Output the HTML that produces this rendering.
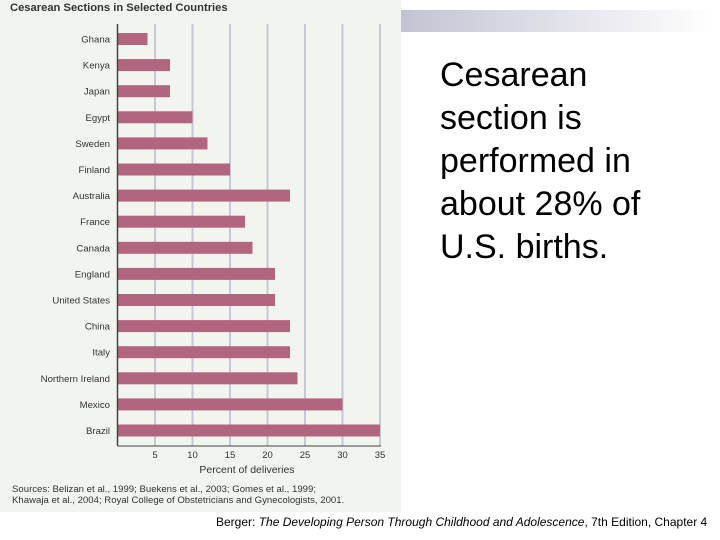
<!DOCTYPE html>
<html><head><meta charset="utf-8"><style>
body{margin:0;width:720px;height:540px;background:#fff;position:relative;overflow:hidden;font-family:"Liberation Sans",sans-serif}
#panel{position:absolute;left:0;top:0;width:401px;height:512px;background:#f2f5ef}
#band{position:absolute;left:401px;top:10px;width:312px;height:22px;background:linear-gradient(to right,#c3c3d3,#ffffff)}
#big{position:absolute;left:440px;top:54px;font-size:34px;line-height:43px;color:#000}
#cap{position:absolute;left:216px;top:515px;font-size:12px;color:#000;white-space:nowrap}
</style></head><body>
<div id="panel">
<svg id="chart" width="401" height="512">
<text x="10" y="11" font-size="11.2" fill="#333" font-family="Liberation Sans, sans-serif" font-weight="bold">Cesarean Sections in Selected Countries</text>
<g id="grid"></g><g id="bars"></g><g id="labels"></g><g id="ticks"></g>
<line x1="117.5" y1="24" x2="117.5" y2="446" stroke="#444" stroke-width="1.5"/>
<line x1="117.5" y1="446" x2="381" y2="446" stroke="#444" stroke-width="1"/>
<text x="247" y="473" font-size="10.5" fill="#333" text-anchor="middle">Percent of deliveries</text>
<text x="12" y="492" font-size="9.6" fill="#333">Sources: Belizan et al., 1999; Buekens et al., 2003; Gomes et al., 1999;</text>
<text x="12" y="503" font-size="9.6" fill="#333">Khawaja et al., 2004; Royal College of Obstetricians and Gynecologists, 2001.</text>
</svg></div>
<div id="band"></div>
<div id="big">Cesarean<br>section is<br>performed in<br>about 28% of<br>U.S. births.</div>
<div id="cap">Berger: <i>The Developing Person Through Childhood and Adolescence</i>, 7th Edition, Chapter 4</div>
<script>
const countries=["Ghana","Kenya","Japan","Egypt","Sweden","Finland","Australia","France","Canada","England","United States","China","Italy","Northern Ireland","Mexico","Brazil"];
const values=[4,7,7,10,12,15,23,17,18,21,21,23,23,24,30,35];
const ticks=[5,10,15,20,25,30,35];
const NS="http://www.w3.org/2000/svg";
const x=v=>117.5+v*7.5;
const y=i=>39+i*26.1;
function mk(t,a,p){const e=document.createElementNS(NS,t);for(const k in a)e.setAttribute(k,a[k]);p.appendChild(e);return e;}
const g=document.getElementById('grid'),b=document.getElementById('bars'),l=document.getElementById('labels'),tk=document.getElementById('ticks');
ticks.forEach(t=>{
 const ln=mk('line',{x1:x(t),x2:x(t),y1:24,y2:446,stroke:'#c5c9d6','stroke-width':2},g);
 
 
 const tx=mk('text',{x:x(t),y:458,'font-size':9.5,fill:'#333','text-anchor':'middle'},tk);
 tx.textContent=t;
 
 
});
countries.forEach((c,i)=>{
 const r=mk('rect',{x:118,y:y(i)-6,width:x(values[i])-118,height:12,fill:'#b2657f'},b);
 
 
 const t=mk('text',{x:110,y:y(i)+3.5,'font-size':9.6,fill:'#333','text-anchor':'end'},l);
 t.textContent=c;
 
 
});
</script>
</body></html>
